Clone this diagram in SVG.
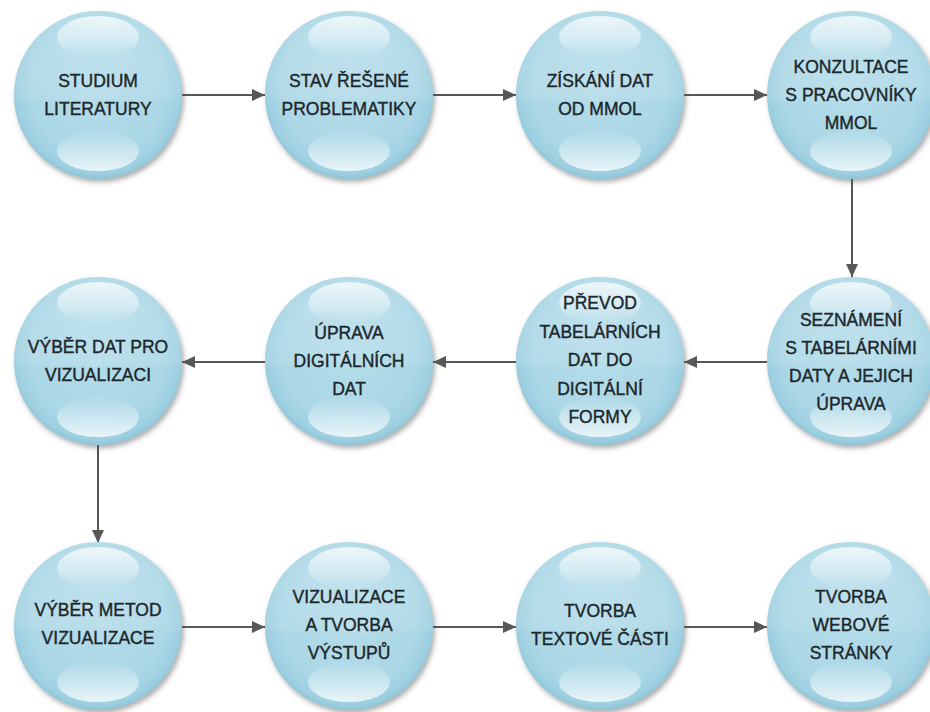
<svg xmlns="http://www.w3.org/2000/svg" width="930" height="712" viewBox="0 0 930 712">
<style>
.lbl{font-family:"Liberation Sans",Arial,sans-serif;font-size:17.5px;fill:#1c272b;stroke:#1c272b;stroke-width:0.4;text-anchor:middle}
.con{stroke:#575757;stroke-width:2;fill:none}
</style>
<defs>
<radialGradient id="body" cx="0.5" cy="0.48" r="0.52">
<stop offset="0" stop-color="#b4dce9"/>
<stop offset="0.75" stop-color="#abd7e6"/>
<stop offset="0.93" stop-color="#9ed0e1"/>
<stop offset="1" stop-color="#8fc5d8"/>
</radialGradient>
<linearGradient id="band" x1="0" y1="0" x2="0" y2="1">
<stop offset="0" stop-color="#ffffff" stop-opacity="0.22"/>
<stop offset="0.5" stop-color="#ffffff" stop-opacity="0.1"/>
<stop offset="0.56" stop-color="#ffffff" stop-opacity="0"/>
<stop offset="1" stop-color="#ffffff" stop-opacity="0"/>
</linearGradient>
<linearGradient id="hiTop" x1="0" y1="0" x2="0" y2="1">
<stop offset="0" stop-color="#f4fafc" stop-opacity="0.9"/>
<stop offset="0.6" stop-color="#e3f2f7" stop-opacity="0.6"/>
<stop offset="1" stop-color="#c8e6ef" stop-opacity="0.15"/>
</linearGradient>
<linearGradient id="hiBot" x1="0" y1="0" x2="0" y2="1">
<stop offset="0" stop-color="#c8e6ef" stop-opacity="0.15"/>
<stop offset="0.5" stop-color="#e2f2f7" stop-opacity="0.6"/>
<stop offset="1" stop-color="#f2f9fb" stop-opacity="0.9"/>
</linearGradient>
<filter id="sh" x="-20%" y="-20%" width="140%" height="140%">
<feDropShadow dx="2" dy="3" stdDeviation="2.5" flood-color="#5a5a5a" flood-opacity="0.5"/>
</filter>
<marker id="ah" markerWidth="13" markerHeight="12" refX="13" refY="6" orient="auto" markerUnits="userSpaceOnUse">
<path d="M0,0 L13,6 L0,12 z" fill="#575757"/>
</marker>
<g id="sphere">
<circle r="84" fill="url(#body)" filter="url(#sh)"/>
<circle r="84" fill="url(#band)"/>
<ellipse cx="0" cy="-58" rx="41" ry="21" fill="url(#hiTop)"/>
<ellipse cx="0" cy="56" rx="41" ry="20" fill="url(#hiBot)"/>
</g>
</defs>
<rect width="930" height="712" fill="#ffffff"/>

<g id="connectors">
<line class="con" x1="182" y1="95" x2="265" y2="95" marker-end="url(#ah)"/>
<line class="con" x1="433" y1="95" x2="516" y2="95" marker-end="url(#ah)"/>
<line class="con" x1="684" y1="95" x2="767" y2="95" marker-end="url(#ah)"/>
<line class="con" x1="852" y1="179" x2="852" y2="277" marker-end="url(#ah)"/>
<line class="con" x1="767" y1="362" x2="684" y2="362" marker-end="url(#ah)"/>
<line class="con" x1="516" y1="362" x2="433" y2="362" marker-end="url(#ah)"/>
<line class="con" x1="265" y1="362" x2="182" y2="362" marker-end="url(#ah)"/>
<line class="con" x1="98" y1="445" x2="98" y2="543" marker-end="url(#ah)"/>
<line class="con" x1="182" y1="627" x2="265" y2="627" marker-end="url(#ah)"/>
<line class="con" x1="433" y1="627" x2="516" y2="627" marker-end="url(#ah)"/>
<line class="con" x1="684" y1="627" x2="767" y2="627" marker-end="url(#ah)"/>
</g>

<g id="n1"><use href="#sphere" x="98" y="95"/>
<text class="lbl" x="98" y="87">STUDIUM</text><text class="lbl" x="98" y="115">LITERATURY</text></g>
<g id="n2"><use href="#sphere" x="349" y="95"/>
<text class="lbl" x="349" y="87">STAV ŘEŠENÉ</text><text class="lbl" x="349" y="115">PROBLEMATIKY</text></g>
<g id="n3"><use href="#sphere" x="600" y="95"/>
<text class="lbl" x="600" y="87">ZÍSKÁNÍ DAT</text><text class="lbl" x="600" y="115">OD MMOL</text></g>
<g id="n4"><use href="#sphere" x="851" y="95"/>
<text class="lbl" x="851" y="73">KONZULTACE</text><text class="lbl" x="851" y="101">S PRACOVNÍKY</text><text class="lbl" x="851" y="129">MMOL</text></g>

<g id="n5"><use href="#sphere" x="851" y="361"/>
<text class="lbl" x="851" y="326">SEZNÁMENÍ</text><text class="lbl" x="851" y="354">S TABELÁRNÍMI</text><text class="lbl" x="851" y="382">DATY A JEJICH</text><text class="lbl" x="851" y="410">ÚPRAVA</text></g>
<g id="n6"><use href="#sphere" x="600" y="361"/>
<text class="lbl" x="600" y="309">PŘEVOD</text><text class="lbl" x="600" y="338">TABELÁRNÍCH</text><text class="lbl" x="600" y="366">DAT DO</text><text class="lbl" x="600" y="395">DIGITÁLNÍ</text><text class="lbl" x="600" y="423">FORMY</text></g>
<g id="n7"><use href="#sphere" x="349" y="361"/>
<text class="lbl" x="349" y="339">ÚPRAVA</text><text class="lbl" x="349" y="367">DIGITÁLNÍCH</text><text class="lbl" x="349" y="395">DAT</text></g>
<g id="n8"><use href="#sphere" x="98" y="361"/>
<text class="lbl" x="98" y="353">VÝBĚR DAT PRO</text><text class="lbl" x="98" y="381">VIZUALIZACI</text></g>

<g id="n9"><use href="#sphere" x="98" y="626"/>
<text class="lbl" x="98" y="616">VÝBĚR METOD</text><text class="lbl" x="98" y="644">VIZUALIZACE</text></g>
<g id="n10"><use href="#sphere" x="349" y="626"/>
<text class="lbl" x="349" y="603">VIZUALIZACE</text><text class="lbl" x="349" y="631">A TVORBA</text><text class="lbl" x="349" y="659">VÝSTUPŮ</text></g>
<g id="n11"><use href="#sphere" x="600" y="626"/>
<text class="lbl" x="600" y="617">TVORBA</text><text class="lbl" x="600" y="645">TEXTOVÉ ČÁSTI</text></g>
<g id="n12"><use href="#sphere" x="851" y="626"/>
<text class="lbl" x="851" y="603">TVORBA</text><text class="lbl" x="851" y="631">WEBOVÉ</text><text class="lbl" x="851" y="659">STRÁNKY</text></g>
</svg>
